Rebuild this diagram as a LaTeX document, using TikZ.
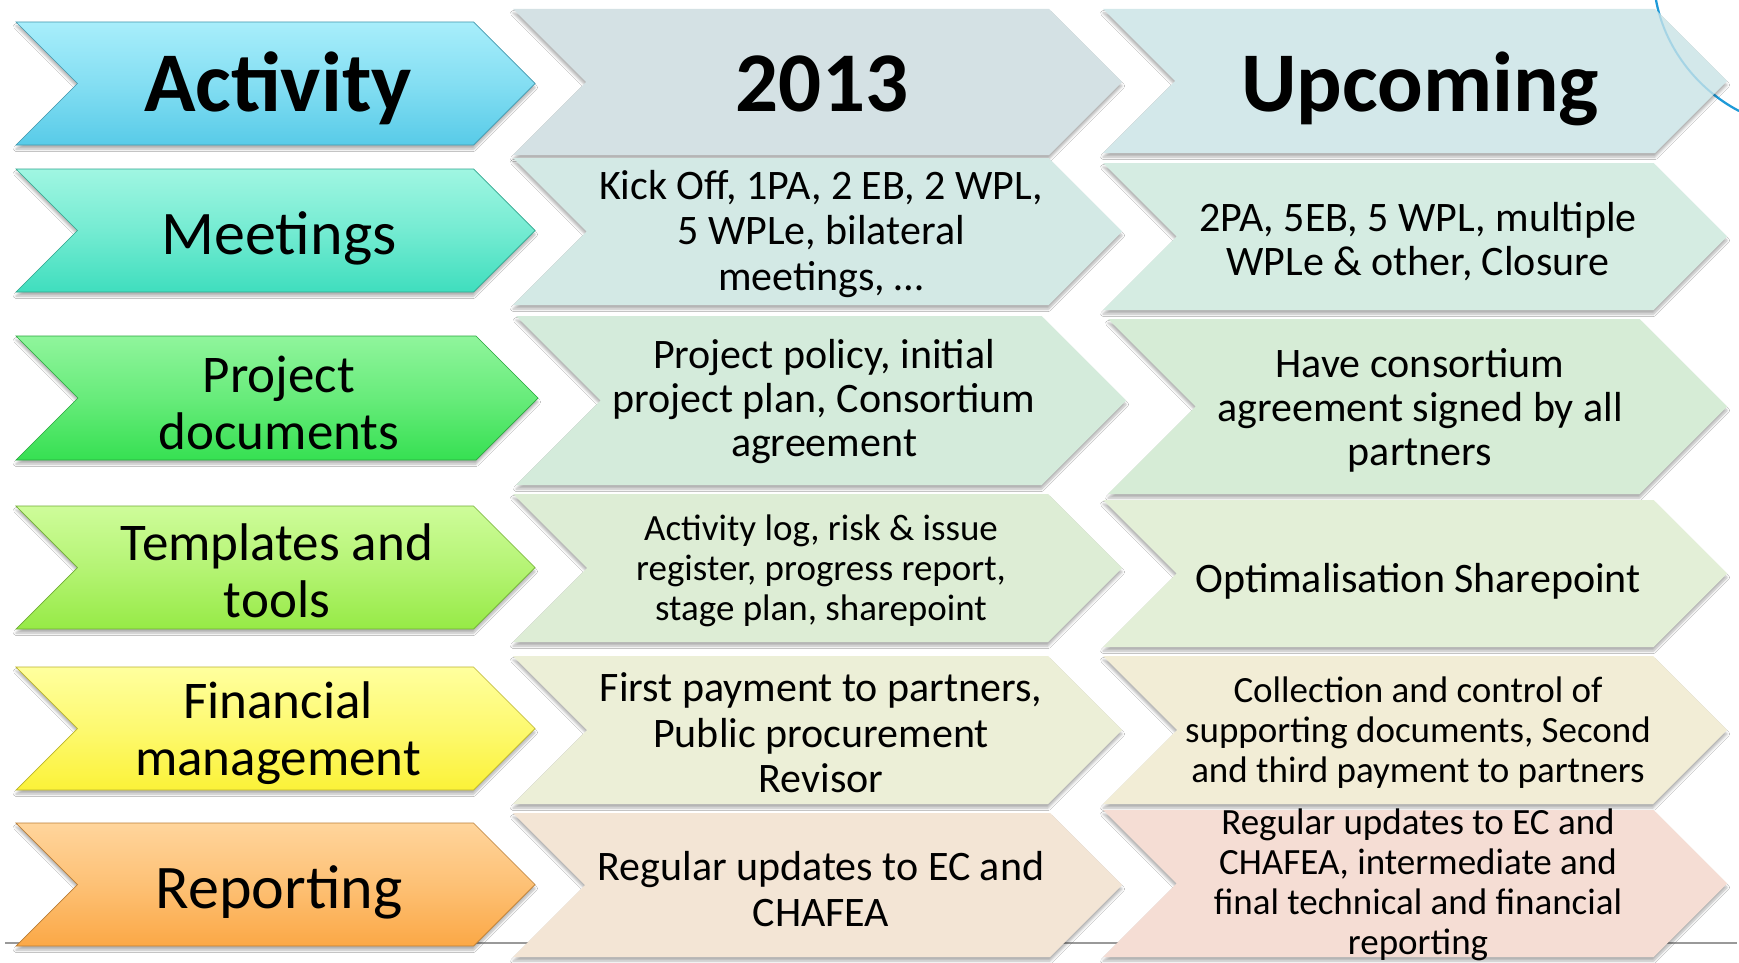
\documentclass[tikz,border=0pt]{standalone}
\usepackage{fontspec}
\setmainfont{Carlito}
\usetikzlibrary{shadows.blur}
% left column colours
\definecolor{aT}{HTML}{A8EEFB}\definecolor{aB}{HTML}{58CBE8}
\definecolor{mT}{HTML}{A0F6E2}\definecolor{mB}{HTML}{3FDEBE}
\definecolor{pT}{HTML}{90F59C}\definecolor{pB}{HTML}{36E052}
\definecolor{tT}{HTML}{CEFC9A}\definecolor{tB}{HTML}{96EA46}
\definecolor{fT}{HTML}{FFFF9E}\definecolor{fB}{HTML}{FBF238}
\definecolor{rT}{HTML}{FFD59C}\definecolor{rB}{HTML}{FBA846}
% pastel colours
\definecolor{hA}{HTML}{D4E1E4}\definecolor{hB}{HTML}{D3E8EA}
\definecolor{mA}{HTML}{D3E9E5}\definecolor{mBB}{HTML}{D5ECE2}
\definecolor{pA}{HTML}{D4EBDB}\definecolor{pBB}{HTML}{D6ECD6}
\definecolor{tA}{HTML}{DDEDD5}\definecolor{tBB}{HTML}{E3EFD7}
\definecolor{fA}{HTML}{ECEFD7}\definecolor{fBB}{HTML}{F2EDD6}
\definecolor{rA}{HTML}{F3E5D5}\definecolor{rBB}{HTML}{F5DDD4}
\definecolor{arcblue}{HTML}{1E9AD8}
\tikzset{
  shad/.style={blur shadow={shadow xshift=0pt,shadow yshift=-4pt,shadow blur steps=5,shadow blur radius=2.5pt,shadow opacity=30}},
  glossy/.style 2 args={shad,top color=#1,bottom color=#2,middle color=#1!55!#2,draw=#2!75!black,line width=0.7pt},
  pastel/.style={shad,fill=#1},
  hdr/.style={inner sep=0pt,anchor=base,font=\fontsize{85}{90}\selectfont\bfseries},
  bigone/.style={inner sep=0pt,anchor=base,font=\fontsize{62}{70}\selectfont},
  twoline/.style={inner sep=0pt,align=center,font=\fontsize{53}{56.5}\selectfont},
  cellA/.style={inner sep=0pt,align=center,font=\fontsize{42}{45.5}\selectfont},
  cellB/.style={inner sep=0pt,align=center,font=\fontsize{42}{44}\selectfont},
  cellC/.style={inner sep=0pt,align=center,font=\fontsize{37}{40}\selectfont},
}
\newcommand\chevpath[5]{%
  \pgfmathsetmacro\cvd{(#4-#3)/2}%
  \pgfmathsetmacro\cvm{(#4+#3)/2}%
  \path[#5] (#1,#3) -- ({#2-\cvd},#3) -- (#2,\cvm) -- ({#2-\cvd},#4) -- (#1,#4) -- ({#1+\cvd},\cvm) -- cycle;%
}
\begin{document}
\begin{tikzpicture}[x=1pt,y=-1pt]
\useasboundingbox (0,0) rectangle (1739,963);
\fill[white] (0,0) rectangle (1739,963);
% base line and arc (behind)
\draw[black!40,line width=2pt] (5,943) -- (1737,943);
\draw[arcblue,line width=2.2pt] (1656,0) .. controls (1664,45) and (1695,88) .. (1739,111);
% left column
\chevpath{16}{535}{22}{145}{glossy={aT}{aB}}
\chevpath{16}{535}{169}{292}{glossy={mT}{mB}}
\chevpath{16}{538}{336}{460}{glossy={pT}{pB}}
\chevpath{16}{535}{506}{629}{glossy={tT}{tB}}
\chevpath{16}{535}{667}{790}{glossy={fT}{fB}}
\chevpath{16}{535}{823}{946}{glossy={rT}{rB}}
% 2013 column
\chevpath{513}{1122}{9}{155}{pastel=hA}
\chevpath{513}{1122}{158}{305}{pastel=mA}
\chevpath{516}{1126}{316}{485}{pastel=pA}
\chevpath{513}{1122}{494}{642}{pastel=tA}
\chevpath{513}{1122}{656}{804}{pastel=fA}
\chevpath{513}{1122}{813}{957}{pastel=rA}
% upcoming column
\chevpath{1103}{1727}{9}{153}{pastel=hB}
\chevpath{1103}{1727}{163}{310}{pastel=mBB}
\chevpath{1108}{1727}{319}{494}{pastel=pBB}
\chevpath{1103}{1727}{500}{647}{pastel=tBB}
\chevpath{1103}{1727}{656}{804}{pastel=fBB}
\chevpath{1103}{1727}{810}{957}{pastel=rBB}
% faint arc through the header
\draw[arcblue,line width=2pt,opacity=0.25] (1656,0) .. controls (1664,45) and (1695,88) .. (1739,111);
% texts
\node[hdr] (act) at (278,112) {Activity};
\node[hdr] (y13) at (822,112) {2013};
\node[hdr] (upc) at (1420,112) {Upcoming};
\node[bigone] (meet) at (279,254) {Meetings};
\node[twoline] (pdoc) at (279,403) {Project\\documents};
\node[twoline] (tmpl) at (277,571) {Templates and\\tools};
\node[twoline] (fin) at (278,733) {Financial\\management};
\node[bigone] (rep) at (279,908) {Reporting};
\node[cellA] (c2a) at (821,234) {Kick Off, 1PA, 2 EB, 2 WPL,\\5 WPLe, bilateral\\meetings, \dots};
\node[cellB] (c2b) at (824,402) {Project policy, initial\\project plan, Consortium\\agreement};
\node[cellC] (c2c) at (821,571) {Activity log, risk \& issue\\register, progress report,\\stage plan, sharepoint};
\node[cellA] (c2d) at (821,733) {First payment to partners,\\Public procurement\\Revisor};
\node[cellA] (c2e) at (821,889) {Regular updates to EC and\\CHAFEA};
\node[cellB] (c3a) at (1418,242) {2PA, 5EB, 5 WPL, multiple\\WPLe \& other, Closure};
\node[cellB] (c3b) at (1420,410) {Have consortium\\agreement signed by all\\partners};
\node[inner sep=0pt,anchor=base,font=\fontsize{42}{45.5}\selectfont] (c3c) at (1418,592) {Optimalisation Sharepoint};
\node[cellC] (c3d) at (1418,733) {Collection and control of\\supporting documents, Second\\and third payment to partners};
\node[cellC] (c3e) at (1418,885) {Regular updates to EC and\\CHAFEA, intermediate and\\final technical and financial\\reporting};
\end{tikzpicture}
\end{document}
